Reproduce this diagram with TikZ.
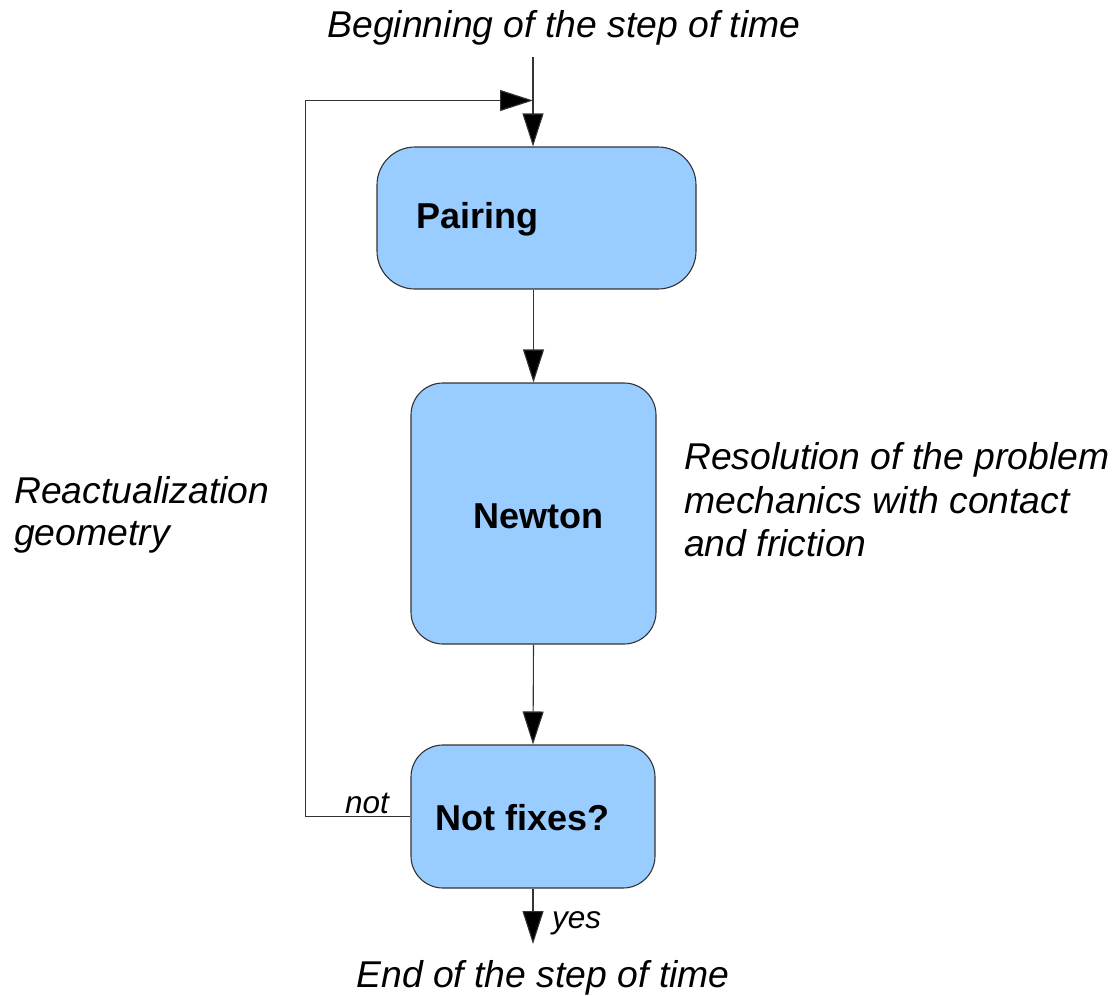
\documentclass[tikz,border=0pt]{standalone}
\usepackage{fontspec}
\setmainfont{Liberation Sans}
\usetikzlibrary{arrows.meta}
\definecolor{boxfill}{HTML}{99CCFF}
\definecolor{lineg}{HTML}{333333}
\tikzset{
  box/.style={draw=lineg, fill=boxfill, line width=1.1pt, rounded corners=#1, inner sep=0pt},
  box/.default=32pt,
  conn/.style={draw=lineg, line width=1.1pt, -{Triangle[length=33pt,width=21pt,fill=black]}},
  boxtext/.style={font=\fontsize{36}{42}\selectfont\bfseries, anchor=base west, inner sep=0pt},
  lbl/.style={font=\fontsize{37.3}{43}\selectfont\itshape, inner sep=0pt},
  small/.style={font=\fontsize{31.5}{34}\selectfont\itshape, anchor=base west, inner sep=0pt}
}
\begin{document}
\begin{tikzpicture}[x=1pt,y=-1pt]
\useasboundingbox (0,0) rectangle (1114,996);
% boxes
\node[box=38pt, minimum width=319pt, minimum height=142pt] (pairing) at (536.5,218) {};
\node[box, minimum width=245pt, minimum height=261pt] (newton) at (533.5,513.5) {};
\node[box, minimum width=244pt, minimum height=143pt] (fixes) at (533,816.5) {};
% box texts
\node[boxtext] (pairingtxt) at (416,228) {Pairing};
\node[boxtext] (newtontxt) at (473,528) {Newton};
\node[boxtext] (fixestxt) at (435,830) {Not fixes?};
% coordinates
\coordinate (start) at (533,57);
\coordinate (merge) at (533,100.5);
\coordinate (endpt) at (533,944);
% connectors
\draw[conn] (start) -- (start |- pairing.north);
\draw[conn] (newton.north |- pairing.south) -- (newton.north);
\draw[conn] (newton.south) -- (fixes.north);
\draw[conn] (fixes.south) -- (endpt);
\draw[conn] (fixes.west) -- ++(-105,0) |- (merge);
% labels
\node[lbl, anchor=base] (begin) at (564,37) {Beginning of the step of time};
\node[lbl, anchor=base] (end) at (543,987) {End of the step of time};
\node[lbl, anchor=base west] (react1) at (14,503) {Reactualization};
\node[lbl, anchor=base west] (react2) at (14,545) {geometry};
\node[lbl, anchor=base west] (res1) at (684,469) {Resolution of the problem};
\node[lbl, anchor=base west] (res2) at (684,513) {mechanics with contact};
\node[lbl, anchor=base west] (res3) at (684,556) {and friction};
\node[small] (notlbl) at (345,813) {not};
\node[small] (yeslbl) at (552,928) {yes};
\end{tikzpicture}
\end{document}
